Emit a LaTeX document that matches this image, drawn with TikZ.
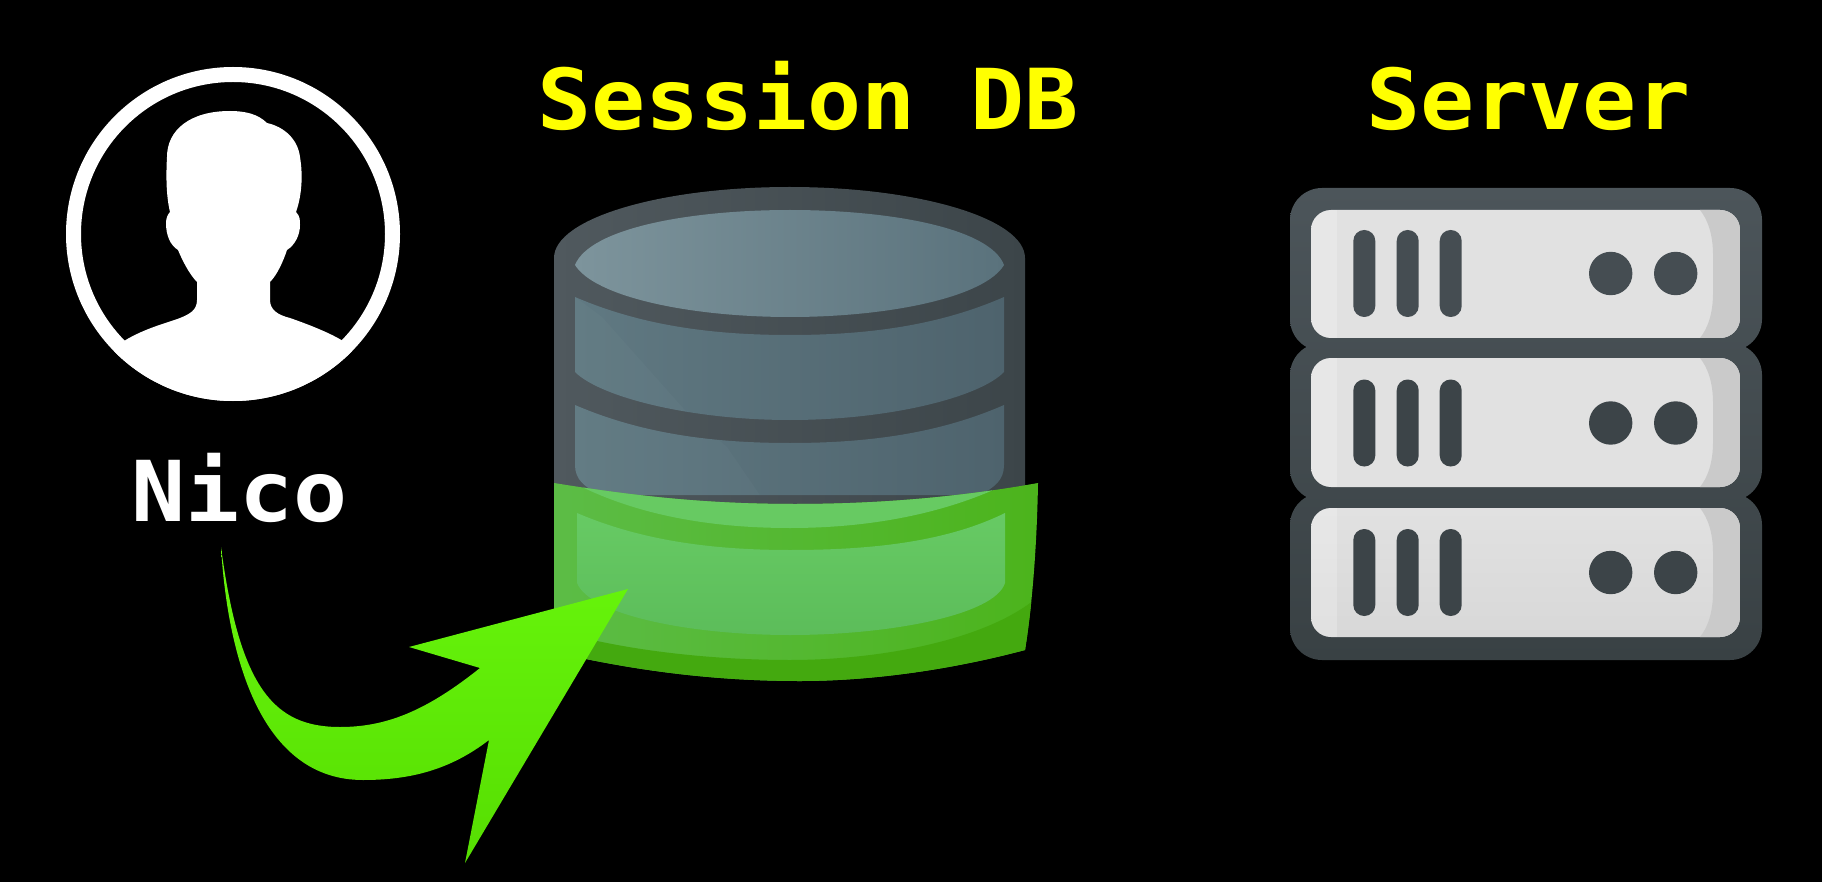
\documentclass[tikz,border=0pt]{standalone}
\usepackage{fontspec}
\newfontfamily\pixfont[FakeStretch=1.07]{DejaVu Sans Mono}
\definecolor{yel}{HTML}{FFFF00}
\definecolor{barA}{HTML}{454D52}
\definecolor{barB}{HTML}{3C4448}
\definecolor{panelmid}{HTML}{E1E1E1}
\definecolor{panelright}{HTML}{CACACA}
\definecolor{panelend}{HTML}{D8D8D8}
\tikzset{
  label text/.style={inner sep=0pt,anchor=base west,font=\pixfont\bfseries\fontsize{84}{84}\selectfont},
  dbpanel/.style={left color={rgb,255:red,96;green,121;blue,130},right color={rgb,255:red,78;green,99;blue,109}},
}
\begin{document}
\begin{tikzpicture}[x=1pt,y=-1pt]
\useasboundingbox (0,0) rectangle (1822,882);
\fill[black] (0,0) rectangle (1822,882);

% ---------- person
\begin{scope}
  \clip (233,234) circle (167);
  \fill[white] (124,341) .. controls (145,328) and (170,322) .. (180,318)
    .. controls (190,314) and (197,310) .. (197,300) -- (197,282)
    .. controls (190,275) and (183,262) .. (178,250)
    .. controls (170,245) and (166,235) .. (166,223)
    .. controls (166,218) and (168,214) .. (170,212)
    .. controls (166,195) and (166,175) .. (167,157)
    .. controls (167,130) and (190,111) .. (230,111)
    .. controls (245,111) and (258,114) .. (267,123)
    .. controls (285,127) and (298,140) .. (300,157)
    .. controls (303,175) and (302,195) .. (296,212)
    .. controls (300,216) and (300,220) .. (300,225)
    .. controls (300,235) and (295,245) .. (287,250)
    .. controls (283,262) and (277,275) .. (270,282) -- (270,300)
    .. controls (270,310) and (278,315) .. (290,318)
    .. controls (310,325) and (330,333) .. (343,341)
    -- (420,420) -- (50,420) -- cycle;
\end{scope}
\draw[white,line width=15pt] (233,234) circle (159.5);

% ---------- database
\shade[left color={rgb,255:red,80;green,89;blue,94},right color={rgb,255:red,60;green,69;blue,73}]
  (554,540) -- (554,258) arc[x radius=235.5,y radius=71,start angle=180,end angle=360] -- (1025,540) -- cycle;
\shade[left color={rgb,255:red,125;green,148;blue,156},right color={rgb,255:red,90;green,114;blue,124}]
  (575,265) .. controls (590,228) and (690,210) .. (790,210)
            .. controls (890,210) and (990,228) .. (1004,265)
            .. controls (985,297) and (890,317) .. (790,317)
            .. controls (690,317) and (595,297) .. (575,265) -- cycle;
\shade[dbpanel]
  (575,297) .. controls (640,325) and (710,335) .. (790,335)
            .. controls (870,335) and (940,325) .. (1004,297)
            -- (1004,372) .. controls (980,397) and (890,420) .. (790,420)
            .. controls (690,420) and (600,397) .. (575,372) -- cycle;
\shade[dbpanel]
  (575,405) .. controls (640,433) and (710,443) .. (790,443)
            .. controls (870,443) and (940,433) .. (1004,405)
            -- (1004,465) .. controls (1004,480) and (995,487) .. (980,495)
            -- (600,495) .. controls (585,487) and (575,480) .. (575,465) -- cycle;
\begin{scope}
  \clip (575,297) .. controls (640,325) and (710,335) .. (790,335)
            .. controls (870,335) and (940,325) .. (1004,297)
            -- (1004,372) .. controls (980,397) and (890,420) .. (790,420)
            .. controls (690,420) and (600,397) .. (575,372) -- cycle
        (575,405) .. controls (640,433) and (710,443) .. (790,443)
            .. controls (870,443) and (940,433) .. (1004,405)
            -- (1004,465) .. controls (1004,480) and (995,487) .. (980,495)
            -- (600,495) .. controls (585,487) and (575,480) .. (575,465) -- cycle;
  \fill[white,opacity=.022] (575,297) -- (602,317) -- (691,417) -- (727,447) -- (770,510) -- (575,510) -- cycle;
\end{scope}

% green band
\begin{scope}
  \clip (554,483) .. controls (640,497) and (710,504) .. (795,504)
            .. controls (880,504) and (960,497) .. (1038,483)
            .. controls (1037,540) and (1033,600) .. (1025,650)
            .. controls (950,670) and (870,681) .. (800,681)
            .. controls (720,681) and (640,672) .. (554,652) -- cycle;
  \shade[left color={rgb,255:red,92;green,188;blue,70},right color={rgb,255:red,76;green,180;blue,28}]
     (554,470) rectangle (1040,690);
  % lower, darkest part of the cylinder wall
  \fill[fill={rgb,255:red,68;green,169;blue,15}]
    (554,630) .. controls (620,650) and (710,660) .. (790,660)
              .. controls (880,660) and (990,640) .. (1040,595)
              -- (1040,690) -- (554,690) -- cycle;
  % top light region
  \fill[fill={rgb,255:red,103;green,202;blue,98}]
    (582,470) -- (1000,470) -- (1000,487)
              .. controls (950,510) and (880,528) .. (790,528)
              .. controls (710,528) and (640,515) .. (582,487) -- cycle;
\end{scope}
% light panel
\shade[top color={rgb,255:red,103;green,202;blue,100},bottom color={rgb,255:red,92;green,189;blue,90}]
  (577,513) .. controls (640,540) and (710,550) .. (790,550)
            .. controls (880,550) and (950,540) .. (1005,513)
            -- (1005,583) .. controls (995,615) and (890,635) .. (790,635)
            .. controls (690,635) and (590,615) .. (577,583) -- cycle;

% ---------- arrow
\shade[top color={rgb,255:red,104;green,246;blue,12},bottom color={rgb,255:red,86;green,222;blue,2}]
  (221,547) .. controls (228,660) and (262,780) .. (363,780)
            .. controls (410,780) and (450,770) .. (489,740)
            -- (465,863) -- (628,589) -- (409,647) -- (480,668)
            .. controls (425,712) and (385,727) .. (340,727)
            .. controls (275,727) and (240,690) .. (221,547) -- cycle;

% ---------- server
\shade[top color={rgb,255:red,76;green,85;blue,90},bottom color={rgb,255:red,57;green,65;blue,68}]
  (1290,188) [rounded corners=32pt] -- (1762,188) -- (1762,351) -- (1290,351) -- cycle
  [sharp corners] (1290,343) [rounded corners=32pt] -- (1762,343) -- (1762,501) -- (1290,501) -- cycle
  [sharp corners] (1290,493) [rounded corners=32pt] -- (1762,493) -- (1762,660) -- (1290,660) -- cycle;
\foreach \dy/\ty/\by/\endc/\barc in {0/210/338/panelmid/barA,149.5/358/487/panelmid/barB,299/508/637/panelend/barB}{
  \begin{scope}
    \clip[rounded corners=20pt] (1311,\ty) rectangle (1740,\by);
    \shade[top color=panelmid,bottom color=\endc] (1311,\ty) rectangle (1740,\by);
    \fill[white,opacity=.22] (1311,\ty) rectangle (1337,\by);
    \fill[panelright] (1700,\ty) .. controls (1708,\ty+10) and (1713,\ty+25) .. (1713,\ty+45)
       -- (1713,\by-45) .. controls (1713,\by-25) and (1708,\by-10) .. (1700,\by) -- (1740,\by) -- (1740,\ty) -- cycle;
  \end{scope}
  \begin{scope}[yshift=-\dy pt]
    \foreach \bx in {1364.3,1407.7,1450.7}
      \fill[\barc,rounded corners=10.9pt] (\bx-11,230) rectangle (\bx+11,317);
    \foreach \cx in {1610.7,1675.7}
      \fill[\barc] (\cx,273.5) circle (21.7);
  \end{scope}
}

% ---------- labels
\node[label text,text=yel] (session) at (537,129.5) {Session DB};
\node[label text,text=yel] (server) at (1366,129.5) {Server};
\node[label text,text=white] (nico) at (131,521) {Nico};
\end{tikzpicture}
\end{document}
